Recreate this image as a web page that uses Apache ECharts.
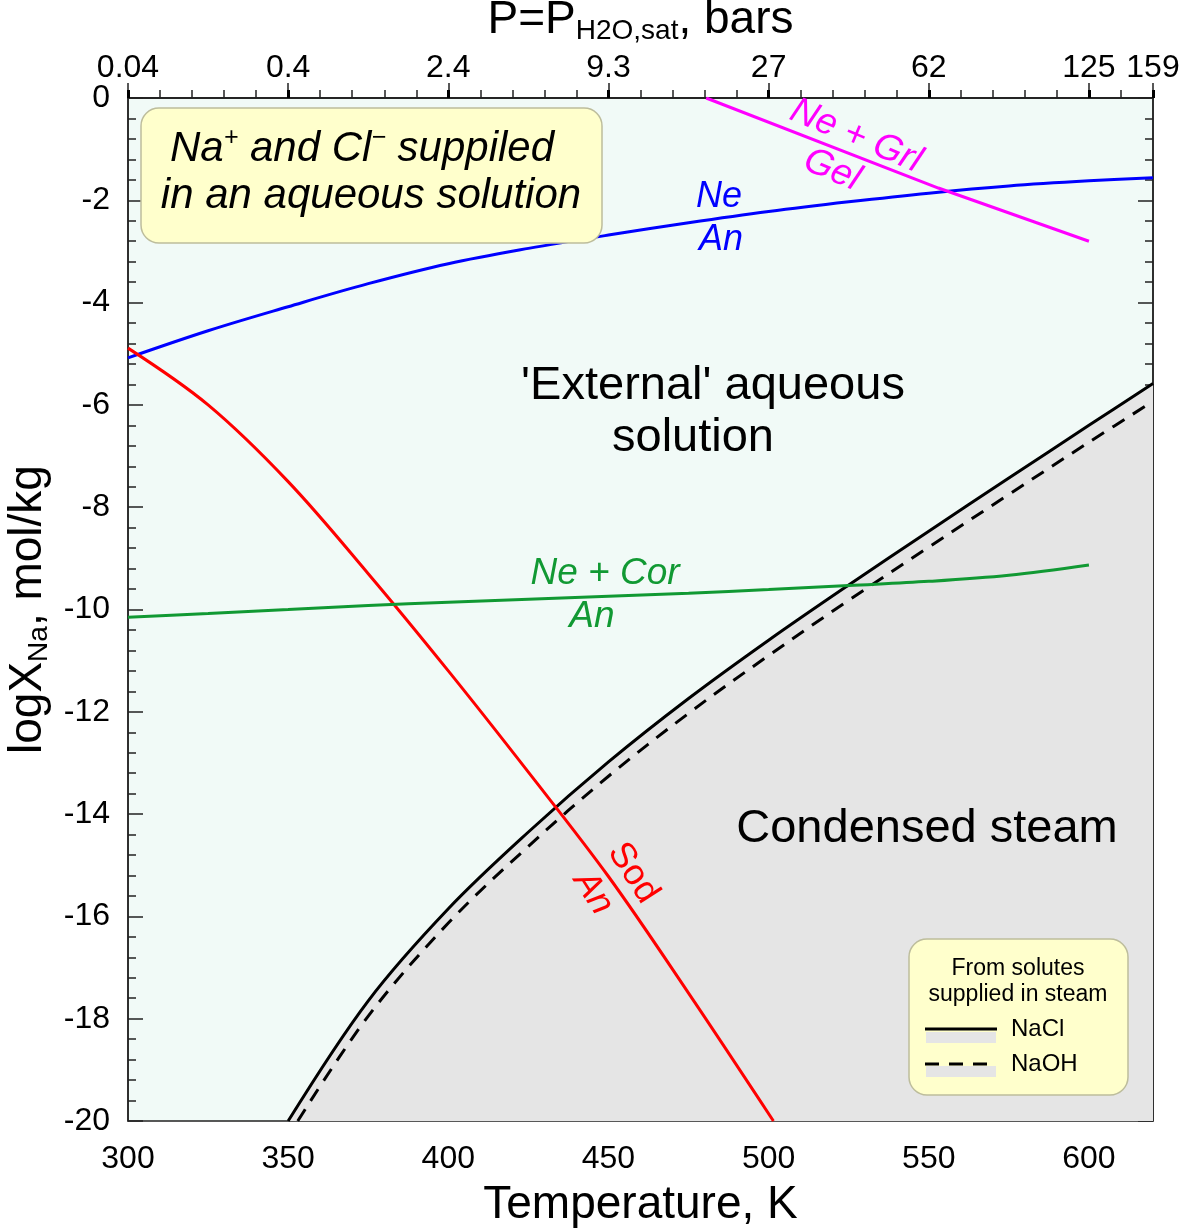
<!DOCTYPE html>
<html>
<head>
<meta charset="utf-8">
<script src="https://cdn.jsdelivr.net/npm/echarts@6/dist/echarts.min.js"></script>
<style>
  html, body { margin: 0; padding: 0; background: #fff; }
  #chart { width: 1181px; height: 1231px; }
</style>
</head>
<body>
<div id="chart"></div>
<script>
// temperature ticks and the matching saturated water pressure (bars)
const tempTicks = [300, 350, 400, 450, 500, 550, 600, 620];
const pressureLabels = ['0.04', '0.4', '2.4', '9.3', '27', '62', '125', '159'];

// Ne / An boundary (blue)
const neAnT = [300, 325, 350, 375, 400, 425, 450, 475, 500, 525, 550, 575, 600, 620];
const neAnY = [-5.08, -4.55, -4.08, -3.63, -3.24, -2.94, -2.68, -2.44, -2.22, -2.03, -1.86, -1.72, -1.62, -1.56];

// Ne + Grl / Gel boundary (magenta)
const neGrlT = [480.5, 553, 600];
const neGrlY = [0, -1.76, -2.8];

// Sod / An boundary (red)
const sodAnT = [300, 325, 350, 375, 400, 425, 450, 475, 501.5];
const sodAnY = [-4.89, -6.0, -7.5, -9.3, -11.2, -13.18, -15.22, -17.5, -20];

// Ne + Cor / An boundary (green)
const neCorT = [300, 325, 350, 375, 400, 425, 450, 475, 500, 525, 550, 575, 600];
const neCorY = [-10.15, -10.08, -10.0, -9.92, -9.86, -9.8, -9.74, -9.68, -9.61, -9.53, -9.45, -9.33, -9.13];

// condensed steam, solutes from NaCl (solid)
const naclT = [350, 375, 400, 425, 450, 475, 500, 525, 550, 575, 600, 620];
const naclY = [-20, -17.65, -15.85, -14.35, -12.98, -11.74, -10.6, -9.52, -8.47, -7.43, -6.4, -5.58];

// condensed steam, solutes from NaOH (dashed)
const naohT = [353, 375, 400, 425, 450, 475, 500, 525, 550, 575, 600, 620];
const naohY = [-20, -17.95, -16.13, -14.63, -13.26, -12.03, -10.9, -9.82, -8.78, -7.75, -6.73, -5.93];

const pair = (xs, ys) => xs.map((x, i) => [x, ys[i]]);

const FONT = 'Liberation Sans, Arial, sans-serif';

const chart = echarts.init(document.getElementById('chart'));

function lineSeries(name, xs, ys, color, extra) {
  return Object.assign({
    name: name,
    type: 'line',
    data: pair(xs, ys),
    smooth: 0.35,
    symbol: 'none',
    lineStyle: { color: color, width: 3 },
    z: 3,
    silent: true
  }, extra || {});
}

function txt(x, y, text, color, size, opts) {
  return {
    type: 'text',
    x: x, y: y,
    rotation: (opts && opts.rot) || 0,
    z: 20,
    style: {
      text: text,
      fill: color,
      font: ((opts && opts.italic) ? 'italic ' : '') + size + 'px ' + FONT,
      align: 'center',
      verticalAlign: 'middle'
    }
  };
}

const tickStyle = { color: '#222', width: 1.5 };

const option = {
  animation: false,
  grid: {
    left: 128, right: 28, top: 98, bottom: 110,
    outerBoundsMode: 'none',
    containLabel: false,
    show: true,
    backgroundColor: '#F1FAF7',
    borderColor: '#222',
    borderWidth: 1.5
  },
  xAxis: [
    {
      type: 'value',
      position: 'bottom',
      min: 300, max: 620, interval: 50,
      name: 'Temperature, K',
      nameLocation: 'middle',
      nameGap: 61,
      nameTextStyle: { fontFamily: FONT, fontSize: 46, color: '#000' },
      axisLine: { lineStyle: tickStyle },
      axisTick: { inside: true, length: 15, lineStyle: tickStyle },
      minorTick: { show: true, splitNumber: 5, length: 8, lineStyle: tickStyle },
      axisLabel: { showMaxLabel: false, margin: 22, fontFamily: FONT, fontSize: 32, color: '#000' },
      splitLine: { show: false }
    },
    {
      type: 'value',
      position: 'top',
      min: 300, max: 620, interval: 50,
      name: 'P=P{sub|H2O,sat}, bars',
      nameLocation: 'middle',
      nameGap: 53,
      nameTextStyle: {
        fontFamily: FONT, fontSize: 46, color: '#000',
        rich: { sub: { fontFamily: FONT, fontSize: 28, color: '#000', verticalAlign: 'bottom', lineHeight: 50 } }
      },
      axisLine: { lineStyle: tickStyle },
      axisTick: { show: true, inside: false, length: 8, lineStyle: { color: '#000', width: 3 } },
      minorTick: { show: false },
      axisLabel: {
        showMaxLabel: true,
        margin: 14, fontFamily: FONT, fontSize: 32, color: '#000',
        formatter: v => {
          const i = tempTicks.indexOf(v);
          return i >= 0 ? pressureLabels[i] : '';
        }
      },
      splitLine: { show: false }
    }
  ],
  yAxis: [
    {
      type: 'value',
      position: 'left',
      min: -20, max: 0, interval: 2,
      name: 'logX{sub|Na}, mol/kg',
      nameLocation: 'middle',
      nameGap: 70,
      nameRotate: 90,
      nameTextStyle: {
        fontFamily: FONT, fontSize: 46, color: '#000',
        rich: { sub: { fontFamily: FONT, fontSize: 28, color: '#000', verticalAlign: 'bottom', lineHeight: 50 } }
      },
      axisLine: { lineStyle: tickStyle },
      axisTick: { inside: true, length: 15, lineStyle: tickStyle },
      minorTick: { show: true, splitNumber: 5, length: 8, lineStyle: tickStyle },
      axisLabel: { margin: 18, fontFamily: FONT, fontSize: 32, color: '#000' },
      splitLine: { show: false }
    },
    {
      type: 'value',
      position: 'right',
      min: -20, max: 0, interval: 2,
      axisLine: { lineStyle: tickStyle },
      axisTick: { inside: true, length: 15, lineStyle: tickStyle },
      minorTick: { show: true, splitNumber: 5, length: 8, lineStyle: tickStyle },
      axisLabel: { show: false },
      splitLine: { show: false }
    }
  ],
  series: [
    lineSeries('NaCl', naclT, naclY, '#000', {
      areaStyle: { color: '#E5E5E5', opacity: 1, origin: 'start' },
      z: 2
    }),
    lineSeries('NaOH', naohT, naohY, '#000', {
      lineStyle: { color: '#000', width: 3, type: [14, 10] }
    }),
    lineSeries('Ne/An', neAnT, neAnY, '#0000FF'),
    lineSeries('Ne+Grl/Gel', neGrlT, neGrlY, '#FF00FF', { smooth: false }),
    lineSeries('Sod/An', sodAnT, sodAnY, '#FF0000'),
    lineSeries('Ne+Cor/An', neCorT, neCorY, '#119933')
  ],
  graphic: [
    // note box top left
    {
      type: 'rect', z: 10,
      shape: { x: 141, y: 108, width: 461, height: 135, r: 18 },
      style: { fill: '#FFFFCC', stroke: '#BDBD9C', lineWidth: 1.5 }
    },
    {
      type: 'text', x: 362, y: 149, z: 20,
      style: {
        text: 'Na{sup|+} and Cl{sup|−} suppiled',
        font: 'italic 42px ' + FONT, fill: '#000',
        align: 'center', verticalAlign: 'middle',
        rich: { sup: { font: 'italic 25px ' + FONT, fill: '#000', verticalAlign: 'top', lineHeight: 46 } }
      }
    },
    txt(371, 196, 'in an aqueous solution', '#000', 42, { italic: true }),

    txt(719, 197, 'Ne', '#0000FF', 36, { italic: true }),
    txt(721, 240, 'An', '#0000FF', 36, { italic: true }),

    txt(856, 136, 'Ne + Grl', '#FF00FF', 37, { italic: true, rot: -0.4 }),
    txt(832, 170, 'Gel', '#FF00FF', 37, { italic: true, rot: -0.4 }),

    txt(713, 386, "'External' aqueous", '#000', 47),
    txt(693, 438, 'solution', '#000', 47),

    txt(605, 574, 'Ne + Cor', '#119933', 37, { italic: true }),
    txt(592, 617, 'An', '#119933', 37, { italic: true }),

    txt(633, 873, 'Sod', '#FF0000', 36, { rot: -1.0 }),
    txt(593, 893, 'An', '#FF0000', 36, { italic: true, rot: -1.0 }),

    txt(927, 829, 'Condensed steam', '#000', 47),

    // legend box bottom right
    {
      type: 'rect', z: 10,
      shape: { x: 909, y: 939, width: 219, height: 156, r: 18 },
      style: { fill: '#FFFFCC', stroke: '#BDBD9C', lineWidth: 1.5 }
    },
    txt(1018, 969, 'From solutes', '#000', 23),
    txt(1018, 995, 'supplied in steam', '#000', 23),
    { type: 'rect', z: 11, shape: { x: 926, y: 1032, width: 70, height: 11 }, style: { fill: '#E5E5E5' } },
    { type: 'line', z: 12, shape: { x1: 925, y1: 1029, x2: 997, y2: 1029 }, style: { stroke: '#000', lineWidth: 3 } },
    { type: 'rect', z: 11, shape: { x: 926, y: 1066, width: 70, height: 11 }, style: { fill: '#E5E5E5' } },
    { type: 'line', z: 12, shape: { x1: 925, y1: 1064, x2: 997, y2: 1064 }, style: { stroke: '#000', lineWidth: 3, lineDash: [14, 10] } },
    { type: 'text', x: 1011, y: 1029, z: 20, style: { text: 'NaCl', font: '24px ' + FONT, fill: '#000', align: 'left', verticalAlign: 'middle' } },
    { type: 'text', x: 1011, y: 1064, z: 20, style: { text: 'NaOH', font: '24px ' + FONT, fill: '#000', align: 'left', verticalAlign: 'middle' } }
  ]
};

chart.setOption(option);
</script>
</body>
</html>
